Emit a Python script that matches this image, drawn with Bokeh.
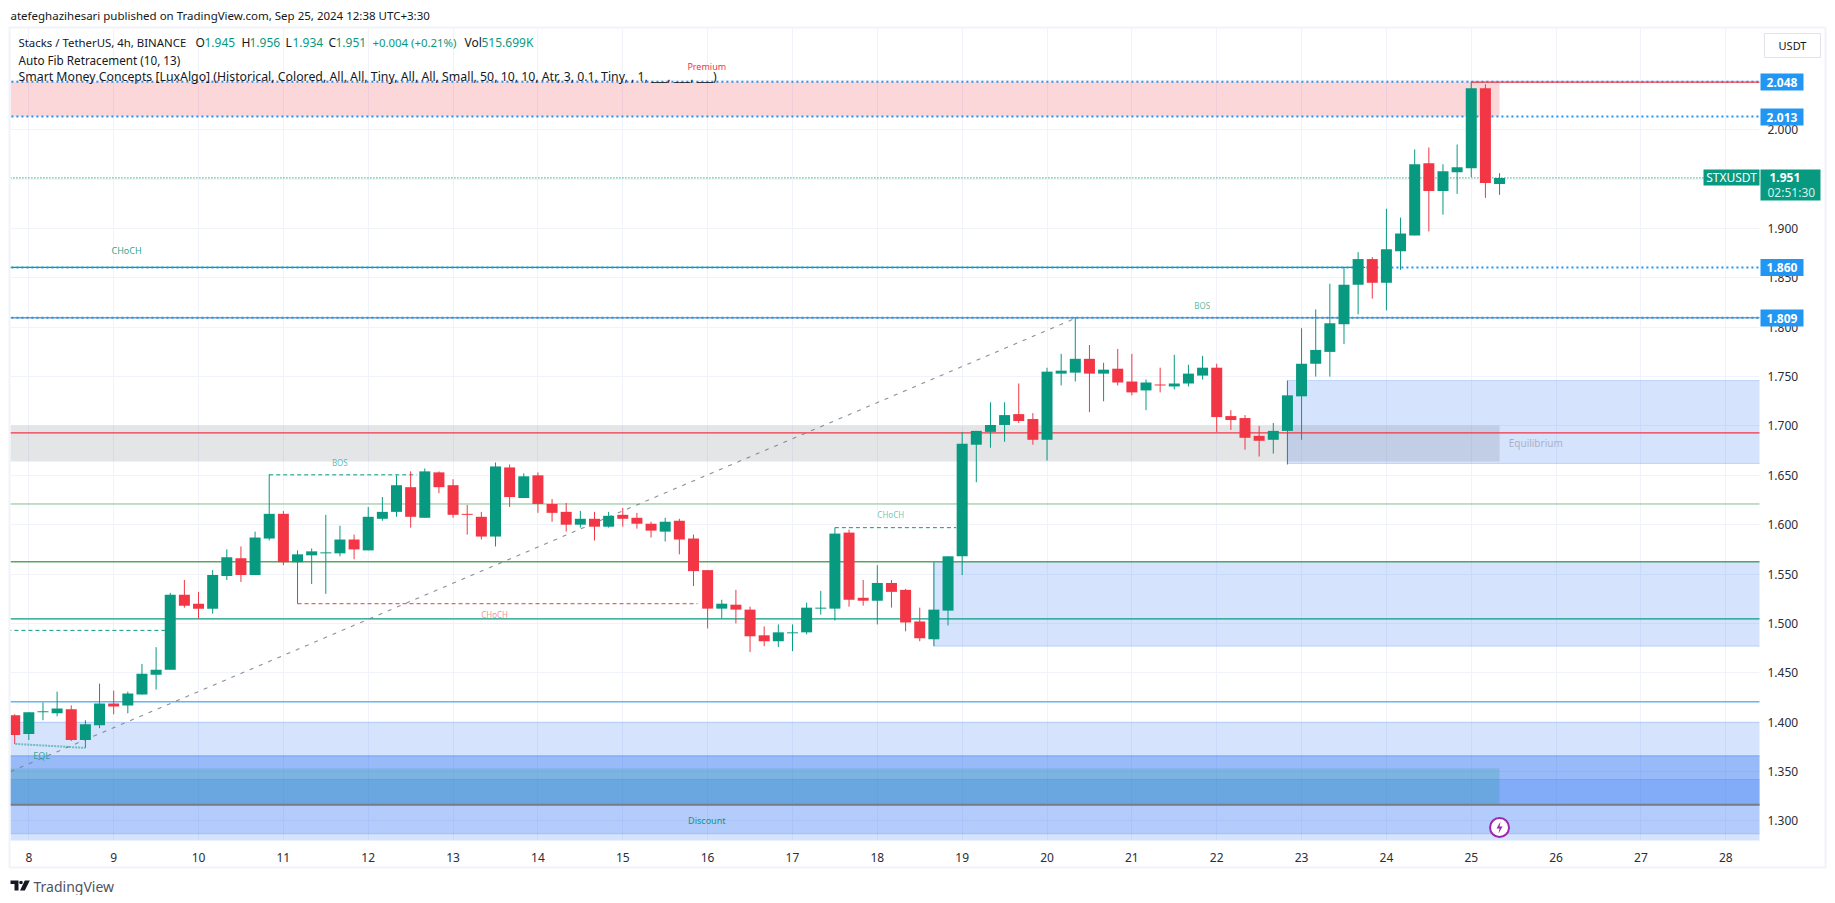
from bokeh.plotting import figure
from bokeh.layouts import column
from bokeh.models import FixedTicker, NumeralTickFormatter, ColumnDataSource
from bokeh.core.properties import value
from bokeh.embed import file_html
from bokeh.resources import INLINE

candle_index = list(range(-1, 105))
opens = [1.407,1.388,1.410,1.409,1.413,1.382,1.397,1.419,1.417,1.428,1.448,1.453,1.529,1.520,1.515,1.548,1.566,1.549,
         1.586,1.611,1.562,1.569,1.571,1.571,1.585,1.574,1.606,1.613,1.638,1.607,1.653,1.640,1.611,1.608,1.588,1.658,
         1.627,1.650,1.621,1.613,1.600,1.606,1.598,1.610,1.607,1.601,1.593,1.604,1.586,1.554,1.515,1.519,1.514,1.488,
         1.482,1.490,1.491,1.515,1.515,1.592,1.526,1.523,1.541,1.534,1.502,1.484,1.513,1.568,1.681,1.694,1.701,1.712,
         1.707,1.686,1.753,1.754,1.768,1.753,1.758,1.745,1.736,1.742,1.740,1.743,1.751,1.759,1.710,1.708,1.690,1.686,
         1.695,1.730,1.763,1.775,1.803,1.843,1.869,1.845,1.877,1.893,1.966,1.938,1.957,1.961,2.042,1.945]
highs = [1.408,1.410,1.420,1.431,1.417,1.402,1.439,1.432,1.431,1.459,1.476,1.531,1.544,1.532,1.554,1.575,1.578,1.593,
         1.651,1.614,1.574,1.576,1.610,1.599,1.590,1.618,1.628,1.650,1.654,1.657,1.654,1.646,1.620,1.613,1.663,1.661,
         1.652,1.653,1.626,1.622,1.614,1.613,1.613,1.617,1.612,1.603,1.607,1.606,1.590,1.554,1.524,1.534,1.517,1.497,
         1.499,1.499,1.521,1.533,1.597,1.595,1.544,1.559,1.544,1.535,1.516,1.562,1.568,1.694,1.695,1.724,1.724,1.743,
         1.713,1.759,1.773,1.810,1.782,1.764,1.778,1.773,1.747,1.759,1.772,1.762,1.771,1.763,1.716,1.711,1.700,1.703,
         1.746,1.799,1.818,1.844,1.860,1.876,1.871,1.920,1.911,1.980,1.982,1.965,1.985,2.049,2.046,1.956]
lows = [1.378,1.382,1.402,1.406,1.381,1.374,1.394,1.408,1.409,1.428,1.433,1.453,1.516,1.505,1.510,1.544,1.542,1.549,
        1.584,1.559,1.520,1.540,1.530,1.568,1.565,1.574,1.604,1.608,1.597,1.607,1.632,1.607,1.590,1.585,1.578,1.618,
        1.627,1.612,1.603,1.593,1.597,1.584,1.597,1.598,1.596,1.587,1.583,1.570,1.538,1.495,1.505,1.500,1.471,1.477,
        1.476,1.472,1.489,1.509,1.503,1.517,1.518,1.499,1.516,1.492,1.482,1.477,1.498,1.549,1.643,1.678,1.684,1.703,
        1.681,1.665,1.741,1.745,1.714,1.725,1.741,1.731,1.716,1.734,1.737,1.740,1.747,1.694,1.696,1.676,1.669,1.672,
        1.661,1.686,1.750,1.750,1.783,1.813,1.829,1.817,1.858,1.893,1.897,1.914,1.935,1.952,1.931,1.934]
closes = [1.387,1.410,1.411,1.414,1.382,1.398,1.419,1.416,1.429,1.449,1.453,1.529,1.518,1.515,1.549,1.567,1.549,1.587,
          1.611,1.562,1.570,1.573,1.572,1.585,1.575,1.608,1.613,1.640,1.608,1.654,1.638,1.610,1.610,1.588,1.659,1.628,
          1.649,1.621,1.612,1.600,1.606,1.598,1.609,1.606,1.601,1.594,1.603,1.585,1.553,1.515,1.520,1.514,1.487,1.482,
          1.491,1.491,1.516,1.516,1.591,1.524,1.523,1.541,1.532,1.501,1.485,1.514,1.568,1.682,1.695,1.701,1.711,1.705,
          1.686,1.755,1.756,1.768,1.753,1.757,1.744,1.734,1.744,1.741,1.743,1.753,1.759,1.709,1.706,1.688,1.685,1.695,
          1.731,1.763,1.777,1.804,1.843,1.869,1.845,1.879,1.895,1.965,1.938,1.958,1.962,2.042,1.946,1.951]

GREEN = "#089981"
RED = "#f23645"
BLUE = "#2196f3"
ZONE_BLUE = "#2d73f5"
FONT = "Noto Sans"
DX, DY = 84.85, 987.5          # px per day, px per price unit

day_ticks = list(range(8, 29))
price_ticks = [1.30, 1.35, 1.40, 1.45, 1.50, 1.55, 1.60, 1.65, 1.70, 1.75, 1.80, 1.85, 1.90, 1.95, 2.00, 2.05]

premium_top, premium_bottom = 2.0485, 2.0135
equilibrium_top, equilibrium_bottom = 1.7005, 1.664
discount_top, discount_bottom = 1.353, 1.3165
zone_end = 25.333
ob_left = [18.667, 22.833, 7.5, 7.5, 7.5, 7.5]
ob_top = [1.562, 1.746, 1.400, 1.366, 1.366, 1.342]
ob_bottom = [1.477, 1.662, 1.270, 1.3165, 1.3165, 1.287]
solid_levels = [1.621, 1.5625, 1.5047, 1.4207, 1.693, 1.3165, 1.8095, 1.8605]
solid_colors = ["#83bd8a", "#57a85e", GREEN, "#64b5f6", RED, "#787b86", "#8296b8", GREEN]
solid_widths = [1, 1.3, 1.3, 1.3, 1.3, 2, 1.5, 1.3]
solid_end = [30, 30, 30, 30, 30, 30, 30, 23.75]
dotted_levels = [2.0485, 2.0135, 1.8605, 1.8095]

p = figure(width=1827, height=895, x_range=(7.784, 28.397), y_range=(1.2802, 2.1025),
           y_axis_location="right", x_axis_location="below",
           output_backend="svg", toolbar_location=None, frame_align=False,
           min_border_left=10, min_border_top=28, min_border_right=68, min_border_bottom=55)
p.outline_line_color = None
p.border_fill_color = "white"
p.grid.grid_line_color = "#f0f3fa"
p.grid.grid_line_width = 1
p.xaxis.ticker = FixedTicker(ticks=day_ticks)
p.xaxis.major_label_overrides = {d: str(d) for d in day_ticks}
p.yaxis.ticker = FixedTicker(ticks=price_ticks)
p.yaxis.formatter = NumeralTickFormatter(format="0.000")
for ax in (p.xaxis[0], p.yaxis[0]):
    ax.axis_line_color = None
    ax.major_tick_line_color = None
    ax.minor_tick_line_color = None
    ax.major_label_text_font = FONT
    ax.major_label_text_font_size = "12px"
    ax.major_label_text_color = "#2a2e39"
p.xaxis.major_label_standoff = 6
p.yaxis.major_label_standoff = 2

# order blocks first, price zones over them
p.quad(left=ob_left, right=[30]*6, top=ob_top, bottom=ob_bottom, fill_color=ZONE_BLUE, fill_alpha=0.2,
       line_color=ZONE_BLUE, line_alpha=0.22, line_width=1)
p.quad(left=7.5, right=zone_end, top=premium_top, bottom=premium_bottom, fill_color=RED, fill_alpha=0.2, line_color=None)
p.quad(left=7.5, right=zone_end, top=equilibrium_top, bottom=equilibrium_bottom, fill_color="#787b86", fill_alpha=0.2, line_color=None)
p.quad(left=7.5, right=zone_end, top=discount_top, bottom=discount_bottom, fill_color=GREEN, fill_alpha=0.2, line_color=None)

p.segment(x0=[7.5]*len(solid_levels), x1=solid_end, y0=solid_levels, y1=solid_levels,
          line_color=solid_colors, line_width=solid_widths)
p.segment(x0=[7.5]*4, x1=[30]*4, y0=dotted_levels, y1=dotted_levels, line_color=BLUE, line_width=2, line_dash="2 3")
p.segment(x0=[7.5], x1=[30], y0=[1.9513], y1=[1.9513], line_color=GREEN, line_width=1.2, line_dash="1 2")
p.segment(x0=[25.0], x1=[30], y0=[2.0482], y1=[2.0482], line_color=RED, line_width=1.3)

p.line([7.784, 20.333], [1.350, 1.809], line_color="#787b86", line_width=1.1, line_alpha=0.85, line_dash="4 6")

dash_x0 = [10.833, 11.167, 7.5, 17.5]
dash_x1 = [12.57, 15.88, 9.667, 18.93]
dash_y = [1.6505, 1.520, 1.493, 1.597]
dash_c = [GREEN, RED, GREEN, GREEN]
p.segment(x0=dash_x0, x1=dash_x1, y0=dash_y, y1=dash_y, line_color=dash_c, line_width=1, line_dash="4 3")
p.line([7.84, 8.667], [1.378, 1.374], line_color=GREEN, line_alpha=0.5, line_width=2, line_dash="2 1")

xs = [8 + k / 6 for k in candle_index]
colors = [GREEN if c >= o else RED for o, c in zip(opens, closes)]
src = ColumnDataSource(dict(x=xs, o=opens, h=highs, l=lows, c=closes, col=colors,
                            top=[max(a, b) for a, b in zip(opens, closes)],
                            bot=[min(a, b) for a, b in zip(opens, closes)]))
p.segment(x0="x", x1="x", y0="l", y1="h", line_color="col", line_width=1, source=src)
p.vbar(x="x", width=0.1296, top="top", bottom="bot", fill_color="col", line_color=None, source=src)

tx = [11.665, 13.489, 18.158, 9.152, 21.83, 8.15, 15.99, 15.99, 25.76]
ty = [1.663, 1.509, 1.610, 1.8777, 1.822, 1.3665, 2.064, 1.300, 1.6825]
tt = ["BOS", "CHoCH", "CHoCH", "CHoCH", "BOS", "EQL", "Premium", "Discount", "Equilibrium"]
tc = [GREEN, RED, GREEN, GREEN, GREEN, GREEN, RED, GREEN, "#787b86"]
ts = ["8px", "8px", "8px", "9px", "8px", "9px", "9px", "9px", "10px"]
ta = [0.65, 0.6, 0.6, 0.9, 0.7, 0.8, 1, 1, 0.5]
p.text(x=tx, y=ty, text=tt, text_color=tc, text_font=value(FONT), text_font_size=ts, text_alpha=ta,
       text_align="center", text_baseline="middle")

p.scatter([zone_end], [1.2934], size=19, marker="circle", fill_color="white", line_color="#9c27b0", line_width=2)
bolt = [(1, 6), (-3, -1), (0, -1), (-1, -6), (3, 1), (0, 1)]
p.patch([zone_end + a / DX for a, _ in bolt], [1.2934 + b / DY for _, b in bolt], fill_color="#9c27b0", line_color=None)

# transparent pixel-space overlay for the page chrome
o = figure(width=1827, height=895, x_range=(0, 1827), y_range=(895, 0), x_axis_location=None, y_axis_location=None,
           output_backend="svg", toolbar_location=None, min_border=0, margin=(-895, 0, 0, 0), frame_align=False)
o.grid.visible = False
o.outline_line_color = None
o.background_fill_alpha = 0
o.border_fill_alpha = 0

o.quad(left=[9], right=[1825], top=[27], bottom=[867], fill_alpha=0, line_color="#f0f3fa", line_width=2)

def text(t, x, y, color="#131722", size="12px", align="left", style="normal"):
    o.text(x=[x], y=[y], text=[t], text_color=color, text_font=value(FONT), text_font_size=size, text_align=align,
           text_baseline="middle", text_font_style=style)

def box(l, r, top, bottom, color):
    o.quad(left=[l], right=[r], top=[top], bottom=[bottom], fill_color=color, line_color=None)

for ymid in (81.5, 116.5, 267, 317.5):
    box(1760, 1803, ymid - 8.5, ymid + 8.5, BLUE)
box(1760, 1820, 169, 200, GREEN)
box(1703, 1759, 169, 185, GREEN)
text("2.048", 1781.5, 81.5, "white", "12px", "center", "bold")
text("2.013", 1781.5, 116.5, "white", "12px", "center", "bold")
text("1.860", 1781.5, 267, "white", "12px", "center", "bold")
text("1.809", 1781.5, 317.5, "white", "12px", "center", "bold")
text("1.951", 1769, 177, "white", "12px", "left", "bold")
text("02:51:30", 1767, 192, "#d5efe9", "12px", "left")
text("STXUSDT", 1731, 177, "white", "12px", "center")
o.quad(left=[1764], right=[1820], top=[33], bottom=[57], fill_alpha=0, line_color="#e0e3eb", line_width=1)
text("USDT", 1792, 45, "#131722", "11px", "center")

text("atefeghazihesari published on TradingView.com, Sep 25, 2024 12:38 UTC+3:30", 10, 15, "#131722", "11.5px")
text("Stacks / TetherUS, 4h, BINANCE", 18, 42, "#131722", "11.4px")
for t, x, c, s in [("O", 195, "#131722", "12px"), ("1.945", 204, GREEN, "12px"), ("H", 241, "#131722", "12px"),
                   ("1.956", 249, GREEN, "12px"), ("L", 285, "#131722", "12px"), ("1.934", 292, GREEN, "12px"),
                   ("C", 328, "#131722", "12px"), ("1.951", 335, GREEN, "12px"), ("+0.004 (+0.21%)", 372, GREEN, "11.4px"),
                   ("Vol", 464, "#131722", "12px"), ("515.699K", 481, GREEN, "12px")]:
    text(t, x, 42, c, s)
text("Auto Fib Retracement (10, 13)", 18, 59, "#131722", "11.7px")
text("Smart Money Concepts [LuxAlgo] (Historical, Colored, All, All, Tiny, All, All, Small, 50, 10, 10, Atr, 3, 0.1, Tiny, , 1, ___, ___, ___)",
     18, 76, "#131722", "12.3px")

LOGO = "#131722"
for lx, ly in [([10, 18, 18, 14, 14, 10], [880, 880, 890, 890, 883.5, 883.5]),
               ([18.8, 20.5, 22.2, 22.2, 20.5, 18.8], [881, 880.2, 881, 883, 883.8, 883]),
               ([24.3, 29.3, 24.3, 19.5], [880, 880, 890, 890])]:
    o.patch(lx, ly, fill_color=LOGO, line_color=None)
text("TradingView", 33, 886, "#50535e", "14px")

page = column(p, o)
open("out.html", "w").write(file_html(page, INLINE))
